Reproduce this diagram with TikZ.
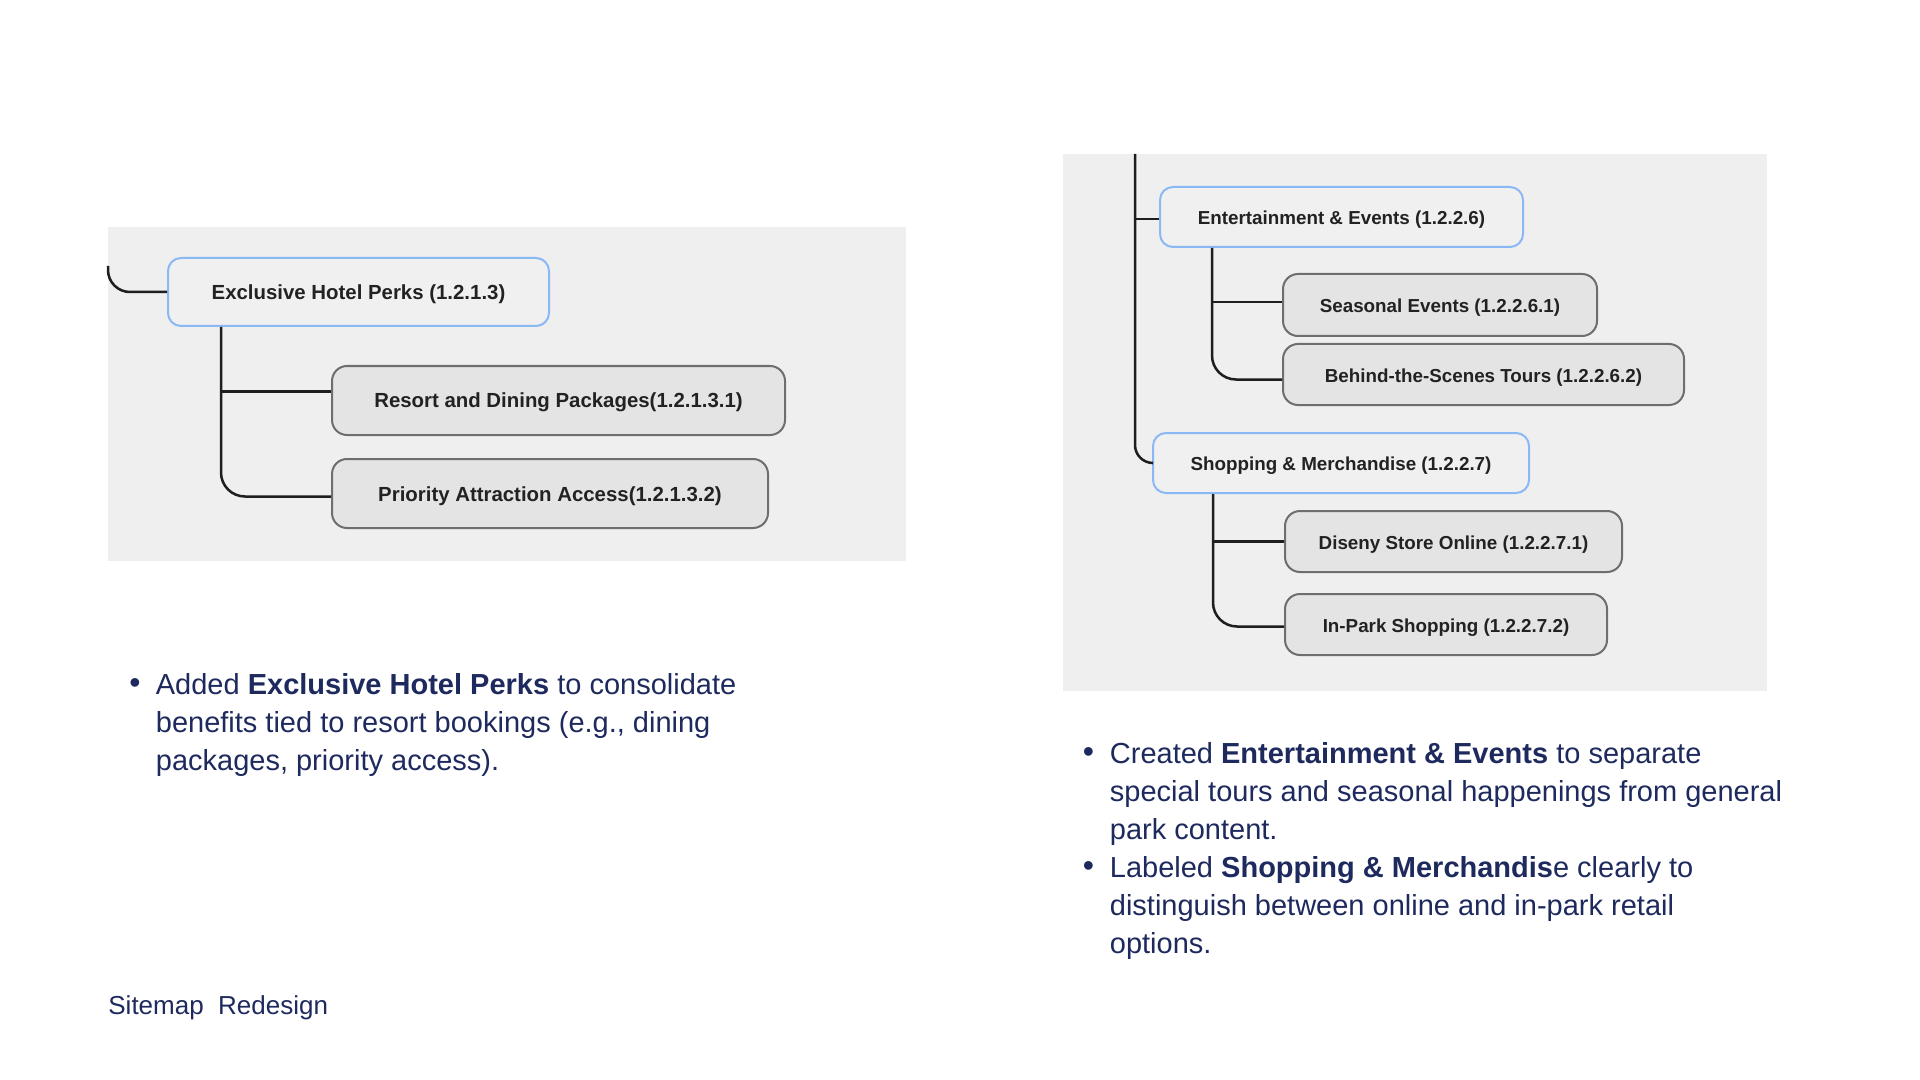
\documentclass[tikz,border=0pt]{standalone}
\usepackage{fontspec}
\setmainfont{Liberation Sans}
\usetikzlibrary{calc}
\definecolor{navy}{HTML}{1E2A5E}
\definecolor{panelc}{HTML}{EFEFEF}
\definecolor{bluebd}{HTML}{8AB8F5}
\definecolor{topfill}{HTML}{F0F0F0}
\definecolor{subfill}{HTML}{E4E4E4}
\definecolor{subbd}{HTML}{6E6E6E}
\definecolor{wirec}{HTML}{1E1E1E}
\definecolor{nodetext}{HTML}{222222}
\begin{document}
\begin{tikzpicture}[x=0.5pt,y=-0.5pt,
  panel/.style={fill=panelc, draw=none},
  boxbase/.style={line width=1pt, inner sep=0pt, text=nodetext,
    text height=0.75em, text depth=0pt},
  topbox/.style={boxbase, draw=bluebd, fill=topfill, rounded corners=6.5pt},
  subbox/.style={boxbase, draw=subbd, fill=subfill, rounded corners=7.5pt},
  lfont/.style={font=\fontsize{10.2pt}{12pt}\selectfont\bfseries},
  rfont/.style={font=\fontsize{9.4pt}{11pt}\selectfont\bfseries},
  wire/.style={draw=wirec, line width=1.25pt},
  bultxt/.style={inner sep=0pt, text=navy, align=left, anchor=north west,
    font=\fontsize{14.5pt}{19pt}\selectfont},
  buldot/.style={inner sep=0pt, text=navy, font=\fontsize{16pt}{19pt}\selectfont},
  footer/.style={inner sep=0pt, text=navy, anchor=base west,
    font=\fontsize{13pt}{19pt}\selectfont}
]
\path[use as bounding box, fill=white] (0,0) rectangle (1920,1080);

% panels
\path[panel] (108,227) rectangle (906,561);
\path[panel] (1063,154) rectangle (1767,691);

% ---------- left tree ----------
\node[topbox, lfont, minimum width=190.5pt, minimum height=34pt] (ehp) at (358.5,292)
  {Exclusive Hotel Perks (1.2.1.3)};
\node[subbox, lfont, minimum width=226.5pt, minimum height=34.5pt] (resort) at (558.5,400.5)
  {Resort and Dining Packages(1.2.1.3.1)};
\node[subbox, lfont, minimum width=218pt, minimum height=34.5pt] (priority) at (550,493.5)
  {Priority Attraction Access(1.2.1.3.2)};

\coordinate (lstub) at (108,266);
\draw[wire, rounded corners=11pt] (lstub) |- (ehp.west);
\coordinate (ehpT) at ($(ehp.south west)+(54,0)$);
\draw[wire] (ehpT) |- ($(resort.west)+(0,-9)$);
\draw[wire, rounded corners=12pt] (ehpT) |- ($(priority.west)+(0,3)$);

% ---------- right tree ----------
\node[topbox, rfont, minimum width=181.5pt, minimum height=30pt] (ent) at (1341.5,217)
  {Entertainment \& Events (1.2.2.6)};
\node[subbox, rfont, minimum width=157pt, minimum height=31pt] (seasonal) at (1440,305)
  {Seasonal Events (1.2.2.6.1)};
\node[subbox, rfont, minimum width=200.5pt, minimum height=30.5pt] (behind) at (1483.5,374.5)
  {Behind-the-Scenes Tours (1.2.2.6.2)};
\node[topbox, rfont, minimum width=188pt, minimum height=30pt] (shop) at (1341,463)
  {Shopping \& Merchandise (1.2.2.7)};
\node[subbox, rfont, minimum width=168.5pt, minimum height=30.5pt] (diseny) at (1453.5,541.5)
  {Diseny Store Online (1.2.2.7.1)};
\node[subbox, rfont, minimum width=161pt, minimum height=30.5pt] (inpark) at (1446,624.5)
  {In-Park Shopping (1.2.2.7.2)};

\coordinate (rtop) at (1135,154);
\draw[wire] (rtop) |- ($(ent.west)+(0,2)$);
\draw[wire, rounded corners=9pt] (rtop) |- (shop.west);
\coordinate (entT) at ($(ent.south west)+(53,0)$);
\draw[wire] (entT) |- ($(seasonal.west)+(0,-3)$);
\draw[wire, rounded corners=12pt] (entT) |- ($(behind.west)+(0,5)$);
\coordinate (shopT) at ($(shop.south west)+(61,0)$);
\draw[wire] (shopT) |- (diseny.west);
\draw[wire, rounded corners=12pt] (shopT) |- ($(inpark.west)+(0,2)$);

% ---------- text ----------
\node[buldot] (d1) at (135,686.5) {•};
\node[bultxt] (t1) at (155.5,673.5)
  {Added \textbf{Exclusive Hotel Perks} to consolidate\\
   benefits tied to resort bookings (e.g., dining\\
   packages, priority access).};

\node[buldot] (d2) at (1088.5,755.5) {•};
\node[bultxt] (t2) at (1109.5,742.5)
  {Created \textbf{Entertainment \& Events} to separate\\
   special tours and seasonal happenings from general\\
   park content.};
\node[buldot] (d3) at (1088.5,869.5) {•};
\node[bultxt] (t3) at (1109.5,856.5)
  {Labeled \textbf{Shopping \& Merchandis}e clearly to\\
   distinguish between online and in-park retail\\
   options.};

\node[footer] (foot) at (108,1014.5) {Sitemap\ \ Redesign};
\end{tikzpicture}
\end{document}
